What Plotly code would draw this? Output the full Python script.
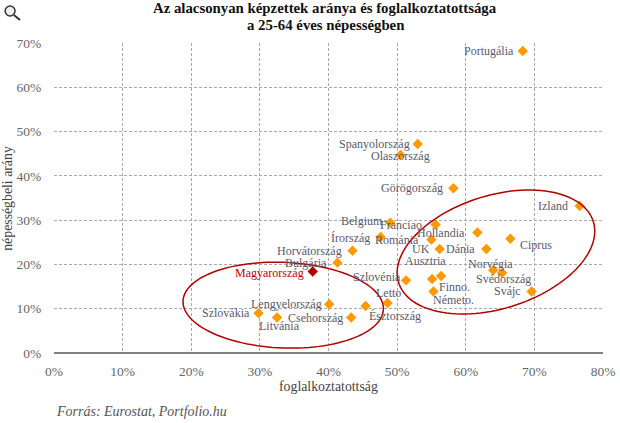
import numpy as np
import plotly.graph_objects as go

countries = ["Portugália","Spanyolország","Olaszország","Görögország","Izland","Franciao.","Belgium","Hollandia","Ciprus","Románia","Írország","UK","Dánia","Horvátország","Bulgária","Norvégia","Svédország","Szlovénia","Ausztria","Finno.","Németo.","Svájc","Lettország","Észtország","Lengyelország","Szlovákia","Litvánia","Csehország"]
employment = [68.3,53.0,50.5,58.2,76.6,55.6,49.0,61.7,66.5,55.0,47.6,56.2,63.0,43.5,41.3,64.0,65.3,51.3,56.4,55.1,55.3,69.6,48.6,45.4,40.1,29.8,32.5,43.3]
low_edu_share = [68.2,47.2,44.7,37.2,33.2,29.0,29.4,27.2,25.8,25.6,26.2,23.5,23.5,23.1,20.4,18.7,18.1,16.4,17.4,16.7,13.9,13.9,11.3,10.6,11.0,9.0,8.0,8.0]
hu_name = ["Magyarország"]
hu_employment = [37.7]
hu_share = [18.4]
x_ticks = [0,10,20,30,40,50,60,70,80]
y_ticks = [0,10,20,30,40,50,60,70]

# label offsets from each point, in pixels (dx, dy down)
offsets = {"Portugália":(-34,0),"Spanyolország":(-43,0),"Olaszország":(0,1),"Görögország":(-41,0),"Izland":(-27,0),
"Franciao.":(-33,0),"Belgium":(-28,-2),"Hollandia":(-36,0),"Ciprus":(26,6),"Románia":(-34,0),"Írország":(-30,1),
"UK":(-19,0),"Dánia":(-26,0),"Horvátország":(-43,0),"Bulgária":(-31,0),"Norvégia":(-3,-6),"Svédország":(1,6),
"Szlovénia":(-29,-3),"Ausztria":(-16,-15),"Finno.":(22,8),"Németo.":(20,9),"Svájc":(-24,0),"Lettország":(1,-10),
"Észtország":(29,10),"Lengyelország":(-43,0),"Szlovákia":(-33,0),"Litvánia":(2,8),"Csehország":(-36,0),"Magyarország":(-43,1)}
label_text = {"Lettország":"Letto"}

TXT = "#5a5a6a"
FONT = "Liberation Serif"

fig = go.Figure()
fig.add_trace(go.Scatter(x=employment, y=low_edu_share, mode="markers", text=countries,
    marker=dict(symbol="diamond", size=8, color="#ff9900"), showlegend=False))
fig.add_trace(go.Scatter(x=hu_employment, y=hu_share, mode="markers", text=hu_name,
    marker=dict(symbol="diamond", size=8, color="#b30000"), showlegend=False))

for name, x, y in list(zip(countries, employment, low_edu_share)) + list(zip(hu_name, hu_employment, hu_share)):
    dx, dy = offsets[name]
    hu = name == "Magyarország"
    fig.add_annotation(x=x, y=y, xref="x", yref="y", text=label_text.get(name, name), showarrow=False,
        xshift=dx, yshift=-dy, font=dict(family=FONT, size=12, color="#c00000" if hu else TXT))

def ellipse(cx, cy, w, h, rho):
    t = np.linspace(0, 2*np.pi, 121)
    xs = cx + w*np.cos(t)
    ys = cy + h*(rho*np.cos(t) + np.sqrt(1-rho**2)*np.sin(t))
    return "M " + " L ".join(f"{a:.3f},{b:.3f}" for a, b in zip(xs, ys)) + " Z"

for e in [(33.4,10.8,14.6,9.7,-0.08),(64.4,22.8,14.4,14.0,0.337)]:
    fig.add_shape(type="path", path=ellipse(*e), xref="x", yref="y", line=dict(color="#b30000", width=1.5))

# magnifier icon
fig.add_shape(type="circle", xref="paper", yref="paper", x0=-0.089, x1=-0.071, y0=1.087, y1=1.119,
    line=dict(color="#333", width=1.5), fillcolor="#eee")
fig.add_shape(type="line", xref="paper", yref="paper", x0=-0.073, x1=-0.062, y0=1.09, y1=1.074,
    line=dict(color="#333", width=2))

for line, yp in [("Az alacsonyan képzettek aránya és foglalkoztatottsága", 1.113), ("a 25-64 éves népességben", 1.058)]:
    fig.add_annotation(xref="paper", yref="paper", x=0.494, y=yp, xanchor="center", yanchor="middle", showarrow=False,
        text=f"<b>{line}</b>", font=dict(family=FONT, size=14.8, color="#111"))
fig.add_annotation(xref="paper", yref="paper", x=0, y=-0.19, xanchor="left", yanchor="middle", showarrow=False,
    text="<i>Forrás: Eurostat, Portfolio.hu</i>", font=dict(family=FONT, size=14, color="#555"))
fig.add_annotation(xref="paper", yref="paper", x=0.5, y=-0.107, xanchor="center", yanchor="middle", showarrow=False,
    text="foglalkoztatottság", font=dict(family=FONT, size=13.8, color="#444"))
fig.add_annotation(xref="paper", yref="paper", x=-0.086, y=0.5, xanchor="center", yanchor="middle", showarrow=False,
    textangle=-90, text="népességbeli arány", font=dict(family=FONT, size=13.8, color="#444"))

grid = dict(showgrid=True, gridcolor="#aaaaaa", griddash="3px,2px", gridwidth=1, zeroline=False, automargin=False,
            ticks="outside", tickcolor="white", tickfont=dict(family=FONT, size=13.5, color="#666"))
fig.update_xaxes(range=[0,80], tickvals=x_ticks, ticktext=[f"{v}%" for v in x_ticks], showline=False, ticklen=6, **grid)
fig.update_yaxes(range=[0,70], tickvals=y_ticks, ticktext=[f"{v}%" for v in y_ticks], showline=False, ticklen=9, **grid)
fig.add_shape(type="line", xref="paper", yref="paper", x0=0, x1=1, y0=0, y1=0, line=dict(color="#808080", width=2))

fig.update_layout(width=620, height=423, paper_bgcolor="white", plot_bgcolor="white",
    margin=dict(l=54, r=17, t=43, b=70), showlegend=False)
fig.write_html("out.html", config=dict(displayModeBar=False),
    post_script="document.body.style.margin='0';document.body.style.overflow='hidden';")
